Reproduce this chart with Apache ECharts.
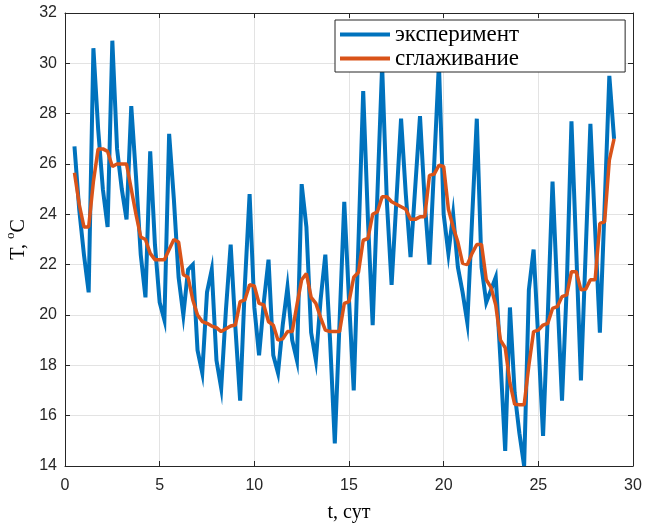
<!DOCTYPE html>
<html>
<head>
<meta charset="utf-8">
<script src="https://cdn.jsdelivr.net/npm/echarts@6/dist/echarts.min.js"></script>
<style>html,body{margin:0;padding:0;background:#fff;}#c{width:654px;height:524px;}</style>
</head>
<body>
<div id="c"></div>
<script>
// sampling grid: first time and step (days)
const T_START = 0.5;
const T_STEP = 0.25;
const xTicks = [0, 5, 10, 15, 20, 25, 30];
const yTicks = [14, 16, 18, 20, 22, 24, 26, 28, 30, 32];
const seriesNames = ['эксперимент', 'сглаживание'];
// experiment (blue)
const experiment = [
 26.7,24.2,22.4,20.9, 30.6,27.4,25.0,23.5, 30.9,26.6,25.0,23.8, 28.3,25.5,22.4,20.7,
 26.5,22.8,20.5,19.8, 27.2,24.6,21.5,20.0, 21.8,22.0,18.6,17.7, 20.9,21.8,18.2,17.1,
 20.2,22.8,19.5,16.6, 21.2,24.8,20.3,18.4, 20.5,22.2,18.4,17.7, 19.6,21.1,19.0,18.2,
 25.2,23.5,19.3,18.2, 20.6,22.4,19.0,14.9, 19.7,24.5,20.6,17.0, 22.9,28.9,23.8,19.6,
 24.8,29.9,24.5,21.2, 24.5,27.8,24.8,22.3, 25.1,27.9,24.5,22.0, 26.0,30.0,24.0,22.45,
 24.0,21.9,20.9,19.7, 23.8,27.8,21.9,20.5, 21.0,21.5,18.2,14.6, 20.3,16.9,15.3,14.0,
 21.0,22.6,19.0,15.2, 20.0,25.3,20.9,16.6, 21.1,27.7,22.6,17.4, 22.5,27.6,23.4,19.3,
 24.3,29.5,27.0
];
// smoothing (orange)
const smoothing = [
 25.65,24.4,23.5,23.5, 25.3,26.6,26.6,26.5, 25.9,26.0,26.0,26.0, 25.0,24.0,23.1,23.0,
 22.45,22.2,22.2,22.2, 22.6,23.0,22.9,21.6, 21.5,20.6,20.0,19.74, 19.67,19.56,19.5,19.34,
 19.45,19.56,19.6,20.53, 20.6,21.2,21.15,20.46, 20.4,19.73,19.6,19.0, 19.05,19.34,19.34,20.4,
 21.4,21.65,20.7,20.46, 19.9,19.4,19.34,19.34, 19.34,20.46,20.53,21.5, 21.7,22.97,23.04,24.0,
 24.1,24.7,24.7,24.5, 24.4,24.3,24.2,23.8, 23.8,23.9,23.9,25.55, 25.6,25.95,25.9,24.2,
 23.5,22.9,22.05,22.0, 22.45,22.8,22.8,21.4, 21.1,20.4,19.0,18.7, 17.3,16.45,16.43,16.43,
 18.0,19.34,19.4,19.6, 19.67,20.26,20.33,20.73, 20.8,21.72,21.72,21.0, 21.02,21.4,21.4,23.64,
 23.7,26.15,27.0
];

const toPairs = arr => arr.map((v, i) => [T_START + i * T_STEP, v]);

const axisColor = '#262626';
const chart = echarts.init(document.getElementById('c'), null, {renderer: 'canvas'});
const xMin = xTicks[0], xMax = xTicks[xTicks.length - 1];
const yMin = yTicks[0], yMax = yTicks[yTicks.length - 1];

chart.setOption({
  animation: false,
  backgroundColor: '#fff',
  grid: {left: 65, right: 21, top: 13, bottom: 58, containLabel: false, outerBoundsMode: 'none'},
  legend: {
    orient: 'vertical',
    left: 335, top: 20,
    data: seriesNames,
    icon: 'rect',
    itemWidth: 50, itemHeight: 4,
    itemGap: 1,
    padding: [3, 106, 2, 5],
    backgroundColor: '#fff',
    borderColor: axisColor, borderWidth: 1,
    textStyle: {fontFamily: 'Liberation Serif', fontSize: 23, color: '#000'}
  },
  xAxis: [{
    type: 'value', min: xMin, max: xMax, interval: 5,
    name: 't, сут', nameLocation: 'middle', nameGap: 37,
    nameTextStyle: {fontFamily: 'Liberation Serif', fontSize: 20, color: '#000'},
    axisLine: {show: true, onZero: false, lineStyle: {color: axisColor, width: 1}},
    axisTick: {show: true, inside: true, length: 5, lineStyle: {color: axisColor}},
    axisLabel: {color: axisColor, fontFamily: 'Liberation Sans', fontSize: 16, margin: 12},
    splitLine: {show: true, lineStyle: {color: '#e3e3e3', width: 1}}
  }, {
    type: 'value', position: 'top', min: xMin, max: xMax, interval: 5,
    axisLine: {show: true, onZero: false, lineStyle: {color: axisColor, width: 1}},
    axisTick: {show: true, inside: true, length: 5, lineStyle: {color: axisColor}},
    axisLabel: {show: false}, splitLine: {show: false}
  }],
  yAxis: [{
    type: 'value', min: yMin, max: yMax, interval: 2,
    name: '{a|T, }{s|o}{a|C}', nameLocation: 'middle', nameGap: 29, nameRotate: 90,
    nameTextStyle: {
      rich: {
        a: {fontFamily: 'Liberation Serif', fontSize: 20, color: '#000', lineHeight: 24, verticalAlign: 'bottom'},
        s: {fontFamily: 'Liberation Serif', fontSize: 13, color: '#000', lineHeight: 24, verticalAlign: 'top'}
      }
    },
    axisLine: {show: true, onZero: false, lineStyle: {color: axisColor, width: 1}},
    axisTick: {show: true, inside: true, length: 5, lineStyle: {color: axisColor}},
    axisLabel: {color: axisColor, fontFamily: 'Liberation Sans', fontSize: 16, margin: 8},
    splitLine: {show: true, lineStyle: {color: '#e3e3e3', width: 1}}
  }, {
    type: 'value', position: 'right', min: yMin, max: yMax, interval: 2,
    axisLine: {show: true, onZero: false, lineStyle: {color: axisColor, width: 1}},
    axisTick: {show: true, inside: true, length: 5, lineStyle: {color: axisColor}},
    axisLabel: {show: false}, splitLine: {show: false}
  }],
  series: [{
    name: seriesNames[0], type: 'line', data: toPairs(experiment),
    showSymbol: false, symbol: 'none', smooth: false,
    lineStyle: {color: '#0072BD', width: 4, join: 'miter'},
    itemStyle: {color: '#0072BD'}, z: 2
  }, {
    name: seriesNames[1], type: 'line', data: toPairs(smoothing),
    showSymbol: false, symbol: 'none', smooth: false,
    lineStyle: {color: '#D95319', width: 3.5},
    itemStyle: {color: '#D95319'}, z: 3
  }]
});
</script>
</body>
</html>
